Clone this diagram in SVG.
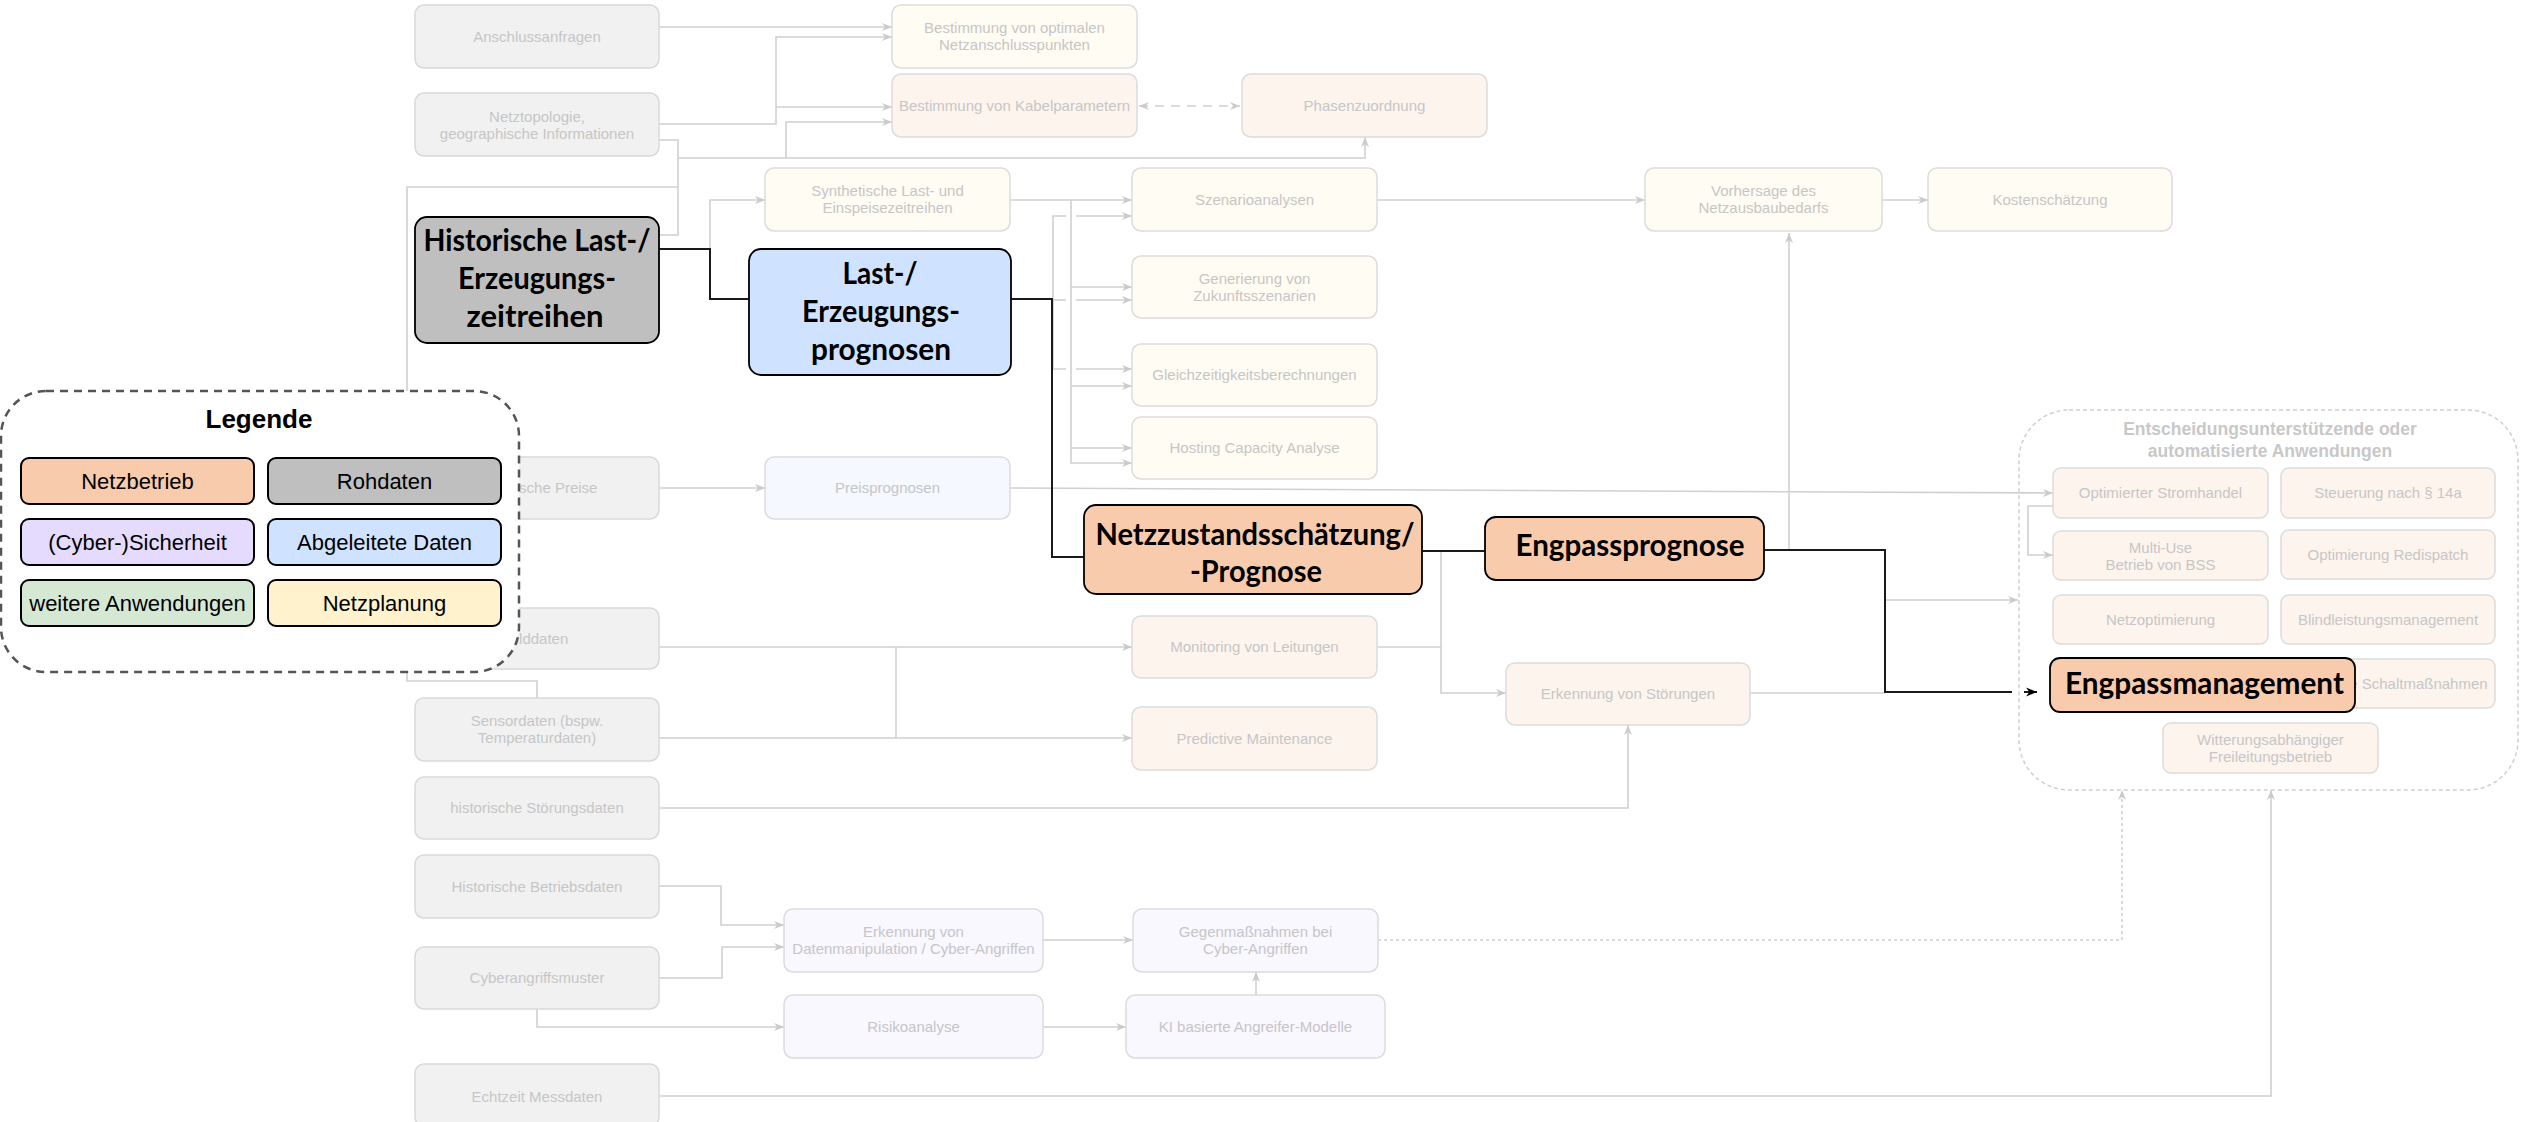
<svg xmlns="http://www.w3.org/2000/svg" width="2521" height="1122" viewBox="0 0 2521 1122">
<style>
.ft{font-family:"Liberation Sans",Arial,sans-serif;font-size:15px;fill:#c6c6c6;text-anchor:middle}
.raw{fill:#f1f1f1;stroke:#d9d9d9;stroke-width:1.5}
.plan{fill:#fffcf3;stroke:#dcdcdc;stroke-width:1.5}
.op{fill:#fdf4ee;stroke:#dcdcdc;stroke-width:1.5}
.der{fill:#f5f8ff;stroke:#dcdcdc;stroke-width:1.5}
.cyb{fill:#f9f7ff;stroke:#dcdcdc;stroke-width:1.5}
.hl{stroke:#000;stroke-width:1.8}
.ht{font-family:Lato,"Open Sans",sans-serif;font-weight:bold;font-size:30px;fill:#000;text-anchor:middle}
.c{fill:none;stroke:#d0d0d0;stroke-width:1.6}
.k{fill:none;stroke:#1a1a1a;stroke-width:2}
.lg{stroke:#000;stroke-width:2}
.lt{font-family:"Liberation Sans",Arial,sans-serif;font-size:22px;fill:#000;text-anchor:middle}
</style>
<defs>
<marker id="ag" viewBox="0 0 10 10" refX="10" refY="5" markerWidth="10" markerHeight="10" markerUnits="userSpaceOnUse" orient="auto">
<path d="M0,1 L10,5 L0,9 L3,5 z" fill="#cbcbcb"/>
</marker>
<marker id="ags" viewBox="0 0 10 10" refX="10" refY="5" markerWidth="10" markerHeight="10" markerUnits="userSpaceOnUse" orient="auto-start-reverse">
<path d="M0,1 L10,5 L0,9 L3,5 z" fill="#cbcbcb"/>
</marker>
<marker id="ak" viewBox="0 0 10 10" refX="10" refY="5" markerWidth="11" markerHeight="11" markerUnits="userSpaceOnUse" orient="auto">
<path d="M0,1 L10,5 L0,9 L3,5 z" fill="#000"/>
</marker>
</defs>
<rect width="2521" height="1122" fill="#fff"/>

<g id="container">
<rect x="2019" y="410" width="499" height="380" rx="50" fill="none" stroke="#cfcfcf" stroke-width="1.5" stroke-dasharray="4 3"/>
<text x="2270" y="435" style="font-family:'Liberation Sans',Arial,sans-serif;font-weight:bold;font-size:17.5px;fill:#c8c8c8;text-anchor:middle">Entscheidungsunterstützende oder</text>
<text x="2270" y="457" style="font-family:'Liberation Sans',Arial,sans-serif;font-weight:bold;font-size:17.5px;fill:#c8c8c8;text-anchor:middle">automatisierte Anwendungen</text>
</g>

<g id="connectors">
<path class="c" d="M659,27 H892" marker-end="url(#ag)"/>
<path class="c" d="M659,124 H776 V37 H892" marker-end="url(#ag)"/>
<path class="c" d="M776,107 H892" marker-end="url(#ag)"/>
<path class="c" d="M659,140 H678 V235 H659"/>
<path class="c" d="M678,158 H1365 V137" marker-end="url(#ag)"/>
<path class="c" d="M786,158 V122 H892" marker-end="url(#ag)"/>
<path class="c" d="M537,698 V681 H407 V187 H678"/>
<path class="c" d="M710,249 V200 H765" marker-end="url(#ag)"/>
<path class="c" d="M1010,200 H1132" marker-end="url(#ag)"/>
<path class="c" d="M1071,200 V463 H1132" marker-end="url(#ag)"/>
<path class="c" d="M1071,287 H1132" marker-end="url(#ag)"/>
<path class="c" d="M1071,386 H1132" marker-end="url(#ag)"/>
<path class="c" d="M1071,448 H1132" marker-end="url(#ag)"/>
<path class="c" d="M1066,216 H1053 V369 H1066"/>
<path class="c" d="M1053,300 H1066"/>
<path class="c" d="M1076,216 H1132" marker-end="url(#ag)"/>
<path class="c" d="M1076,300 H1132" marker-end="url(#ag)"/>
<path class="c" d="M1076,369 H1132" marker-end="url(#ag)"/>
<path class="c" d="M1377,200 H1645" marker-end="url(#ag)"/>
<path class="c" d="M1882,200 H1928" marker-end="url(#ag)"/>
<path class="c" d="M1789,550 V233" marker-end="url(#ag)"/>
<path class="c" d="M1885,600 H2018" marker-end="url(#ag)"/>
<path class="c" d="M1750,693 H1885"/>
<path class="c" d="M1377,647 H1441"/>
<path class="c" d="M1441,551 V693 H1506" marker-end="url(#ag)"/>
<path class="c" d="M659,647 H1132" marker-end="url(#ag)"/>
<path class="c" d="M659,738 H896 V647"/>
<path class="c" d="M896,738 H1132" marker-end="url(#ag)"/>
<path class="c" d="M659,808 H1628 V725" marker-end="url(#ag)"/>
<path class="c" d="M659,886 H721 V925 H784" marker-end="url(#ag)"/>
<path class="c" d="M659,978 H722 V947 H784" marker-end="url(#ag)"/>
<path class="c" d="M537,1009 V1027 H784" marker-end="url(#ag)"/>
<path class="c" d="M1043,940 H1133" marker-end="url(#ag)"/>
<path class="c" d="M1043,1027 H1126" marker-end="url(#ag)"/>
<path class="c" d="M1256,995 V972" marker-end="url(#ag)"/>
<path class="c" d="M1378,940 H2122 V790" stroke-dasharray="3 3" marker-end="url(#ag)"/>
<path class="c" d="M659,1096 H2271 V790" marker-end="url(#ag)"/>
<path class="c" d="M1010,488 L2053,493" marker-end="url(#ag)"/>
<path class="c" d="M659,488 H765" marker-end="url(#ag)"/>
<path class="c" d="M2053,506 H2028 V555 H2053" marker-end="url(#ag)"/>
<path class="c" d="M1139,106 H1240" stroke-dasharray="9 7" marker-start="url(#ags)" marker-end="url(#ags)"/>
<path class="k" d="M659,249 H710 V299 H749"/>
<path class="k" d="M1011,299 H1052 V557 H1084"/>
<path class="k" d="M1422,551 H1485"/>
<path class="k" d="M1764,550 H1885 V692 H2012"/>
<path class="k" d="M2024,692 H2037" marker-end="url(#ak)"/>
</g>

<g id="n-anschluss"><rect class="raw" x="415" y="5" width="244" height="63" rx="9"/><text class="ft" x="537" y="42">Anschlussanfragen</text></g>
<g id="n-netztopologie"><rect class="raw" x="415" y="93" width="244" height="63" rx="9"/><text class="ft" x="537" y="122">Netztopologie,</text><text class="ft" x="537" y="139">geographische Informationen</text></g>
<g id="n-preise"><rect class="raw" x="415" y="457" width="244" height="62" rx="9"/><text class="ft" x="537" y="493">Historische Preise</text></g>
<g id="n-bilddaten"><rect class="raw" x="415" y="608" width="244" height="61" rx="9"/><text class="ft" x="537" y="644">Bilddaten</text></g>
<g id="n-sensordaten"><rect class="raw" x="415" y="698" width="244" height="63" rx="9"/><text class="ft" x="537" y="726">Sensordaten (bspw.</text><text class="ft" x="537" y="743">Temperaturdaten)</text></g>
<g id="n-stoerungsdaten"><rect class="raw" x="415" y="777" width="244" height="62" rx="9"/><text class="ft" x="537" y="813">historische Störungsdaten</text></g>
<g id="n-betriebsdaten"><rect class="raw" x="415" y="855" width="244" height="63" rx="9"/><text class="ft" x="537" y="892">Historische Betriebsdaten</text></g>
<g id="n-cybermuster"><rect class="raw" x="415" y="947" width="244" height="62" rx="9"/><text class="ft" x="537" y="983">Cyberangriffsmuster</text></g>
<g id="n-echtzeit"><rect class="raw" x="415" y="1064" width="244" height="62" rx="9"/><text class="ft" x="537" y="1102">Echtzeit Messdaten</text></g>

<g id="n-synthetisch"><rect class="plan" x="765" y="168" width="245" height="63" rx="9"/><text class="ft" x="887.5" y="196">Synthetische Last- und</text><text class="ft" x="887.5" y="213">Einspeisezeitreihen</text></g>
<g id="n-preisprognosen"><rect class="der" x="765" y="457" width="245" height="62" rx="9"/><text class="ft" x="887.5" y="493">Preisprognosen</text></g>
<g id="n-datenmanipulation"><rect class="cyb" x="784" y="909" width="259" height="63" rx="9"/><text class="ft" x="913.5" y="937">Erkennung von</text><text class="ft" x="913.5" y="954">Datenmanipulation / Cyber-Angriffen</text></g>
<g id="n-risiko"><rect class="cyb" x="784" y="995" width="259" height="63" rx="9"/><text class="ft" x="913.5" y="1032">Risikoanalyse</text></g>

<g id="n-netzanschluss"><rect class="plan" x="892" y="5" width="245" height="63" rx="9"/><text class="ft" x="1014.5" y="33">Bestimmung von optimalen</text><text class="ft" x="1014.5" y="50">Netzanschlusspunkten</text></g>
<g id="n-kabel"><rect class="op" x="892" y="74" width="245" height="63" rx="9"/><text class="ft" x="1014.5" y="111">Bestimmung von Kabelparametern</text></g>
<g id="n-phasen"><rect class="op" x="1242" y="74" width="245" height="63" rx="9"/><text class="ft" x="1364.5" y="111">Phasenzuordnung</text></g>
<g id="n-szenario"><rect class="plan" x="1132" y="168" width="245" height="63" rx="9"/><text class="ft" x="1254.5" y="205">Szenarioanalysen</text></g>
<g id="n-zukunft"><rect class="plan" x="1132" y="256" width="245" height="62" rx="9"/><text class="ft" x="1254.5" y="284">Generierung von</text><text class="ft" x="1254.5" y="301">Zukunftsszenarien</text></g>
<g id="n-gleichz"><rect class="plan" x="1132" y="344" width="245" height="62" rx="9"/><text class="ft" x="1254.5" y="380">Gleichzeitigkeitsberechnungen</text></g>
<g id="n-hosting"><rect class="plan" x="1132" y="417" width="245" height="62" rx="9"/><text class="ft" x="1254.5" y="453">Hosting Capacity Analyse</text></g>
<g id="n-monitoring"><rect class="op" x="1132" y="616" width="245" height="62" rx="9"/><text class="ft" x="1254.5" y="652">Monitoring von Leitungen</text></g>
<g id="n-predictive"><rect class="op" x="1132" y="707" width="245" height="63" rx="9"/><text class="ft" x="1254.5" y="744">Predictive Maintenance</text></g>
<g id="n-gegenmassnahmen"><rect class="cyb" x="1133" y="909" width="245" height="63" rx="9"/><text class="ft" x="1255.5" y="937">Gegenmaßnahmen bei</text><text class="ft" x="1255.5" y="954">Cyber-Angriffen</text></g>
<g id="n-ki"><rect class="cyb" x="1126" y="995" width="259" height="63" rx="9"/><text class="ft" x="1255.5" y="1032">KI basierte Angreifer-Modelle</text></g>

<g id="n-vorhersage"><rect class="plan" x="1645" y="168" width="237" height="63" rx="9"/><text class="ft" x="1763.5" y="196">Vorhersage des</text><text class="ft" x="1763.5" y="213">Netzausbaubedarfs</text></g>
<g id="n-kosten"><rect class="plan" x="1928" y="168" width="244" height="63" rx="9"/><text class="ft" x="2050" y="205">Kostenschätzung</text></g>
<g id="n-stoerungen"><rect class="op" x="1506" y="663" width="244" height="62" rx="9"/><text class="ft" x="1628" y="699">Erkennung von Störungen</text></g>

<g id="n-stromhandel"><rect class="op" x="2053" y="468" width="215" height="50" rx="8"/><text class="ft" x="2160.5" y="498">Optimierter Stromhandel</text></g>
<g id="n-14a"><rect class="op" x="2281" y="468" width="214" height="50" rx="8"/><text class="ft" x="2388" y="498">Steuerung nach § 14a</text></g>
<g id="n-multiuse"><rect class="op" x="2053" y="531" width="215" height="49" rx="8"/><text class="ft" x="2160.5" y="553">Multi-Use</text><text class="ft" x="2160.5" y="570">Betrieb von BSS</text></g>
<g id="n-redispatch"><rect class="op" x="2281" y="530" width="214" height="49" rx="8"/><text class="ft" x="2388" y="560">Optimierung Redispatch</text></g>
<g id="n-netzopt"><rect class="op" x="2053" y="595" width="215" height="49" rx="8"/><text class="ft" x="2160.5" y="625">Netzoptimierung</text></g>
<g id="n-blind"><rect class="op" x="2281" y="595" width="214" height="49" rx="8"/><text class="ft" x="2388" y="625">Blindleistungsmanagement</text></g>
<g id="n-schalt"><rect class="op" x="2281" y="659" width="214" height="49" rx="8"/><text class="ft" x="2388" y="689">Optimierte Schaltmaßnahmen</text></g>
<g id="n-witterung"><rect class="op" x="2163" y="723" width="215" height="50" rx="8"/><text class="ft" x="2270.5" y="745">Witterungsabhängiger</text><text class="ft" x="2270.5" y="762">Freileitungsbetrieb</text></g>

<g id="n-historische"><rect class="hl" x="415" y="217" width="244" height="126" rx="12" fill="#bfbfbf"/>
<text class="ht" x="537" y="251" textLength="227" lengthAdjust="spacingAndGlyphs">Historische Last-/</text>
<text class="ht" x="537" y="289" textLength="158" lengthAdjust="spacingAndGlyphs">Erzeugungs-</text>
<text class="ht" x="535" y="327" textLength="137" lengthAdjust="spacingAndGlyphs">zeitreihen</text></g>
<g id="n-lastprognosen"><rect class="hl" x="749" y="249" width="262" height="126" rx="12" fill="#cfe2ff"/>
<text class="ht" x="880" y="284" textLength="75" lengthAdjust="spacingAndGlyphs">Last-/</text>
<text class="ht" x="881" y="322" textLength="158" lengthAdjust="spacingAndGlyphs">Erzeugungs-</text>
<text class="ht" x="881" y="360" textLength="140" lengthAdjust="spacingAndGlyphs">prognosen</text></g>
<g id="n-netzzustand"><rect class="hl" x="1084" y="505" width="338" height="89" rx="12" fill="#f8cbad"/>
<text class="ht" x="1255" y="545" textLength="319" lengthAdjust="spacingAndGlyphs">Netzzustandsschätzung/</text>
<text class="ht" x="1256" y="582" textLength="132" lengthAdjust="spacingAndGlyphs">-Prognose</text></g>
<g id="n-engpassprognose"><rect class="hl" x="1485" y="517" width="279" height="63" rx="11" fill="#f8cbad"/>
<text class="ht" x="1630" y="556" textLength="229" lengthAdjust="spacingAndGlyphs">Engpassprognose</text></g>
<g id="n-engpassmanagement"><rect class="hl" x="2050" y="658" width="305" height="54" rx="10" fill="#f8cbad"/>
<text class="ht" x="2204.5" y="694" textLength="279" lengthAdjust="spacingAndGlyphs">Engpassmanagement</text></g>

<g id="legend">
<rect x="1" y="391" width="518" height="281" rx="45" fill="#fff" stroke="#555" stroke-width="2.5" stroke-dasharray="8 6"/>
<text x="259" y="428" style="font-family:'Liberation Sans',Arial,sans-serif;font-weight:bold;font-size:26px;fill:#000;text-anchor:middle">Legende</text>
<rect class="lg" x="21" y="458" width="233" height="46" rx="8" fill="#f8cbad"/><text class="lt" x="137.5" y="489">Netzbetrieb</text>
<rect class="lg" x="268" y="458" width="233" height="46" rx="8" fill="#bfbfbf"/><text class="lt" x="384.5" y="489">Rohdaten</text>
<rect class="lg" x="21" y="519" width="233" height="46" rx="8" fill="#e5dbff"/><text class="lt" x="137.5" y="550">(Cyber-)Sicherheit</text>
<rect class="lg" x="268" y="519" width="233" height="46" rx="8" fill="#cfe2ff"/><text class="lt" x="384.5" y="550">Abgeleitete Daten</text>
<rect class="lg" x="21" y="580" width="233" height="46" rx="8" fill="#d5e8d4"/><text class="lt" x="137.5" y="611">weitere Anwendungen</text>
<rect class="lg" x="268" y="580" width="233" height="46" rx="8" fill="#fff2cc"/><text class="lt" x="384.5" y="611">Netzplanung</text>
</g>
</svg>
